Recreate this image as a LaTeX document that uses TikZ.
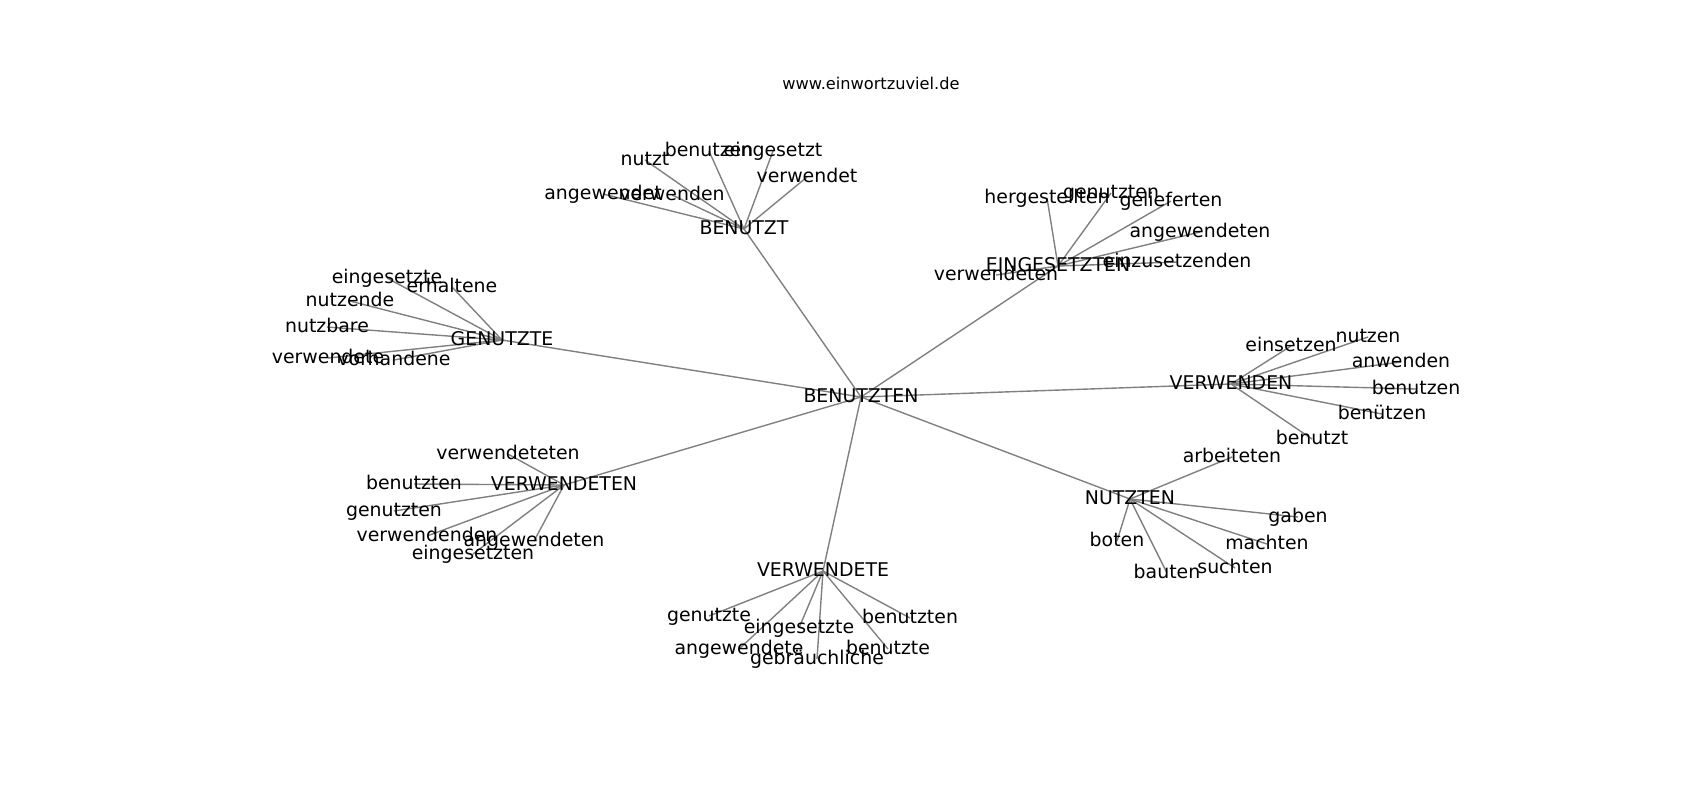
\documentclass[tikz,border=0pt]{standalone}
\usepackage{fontspec}
\setmainfont{DejaVu Sans}
\usetikzlibrary{backgrounds}
\tikzset{
  word/.style={inner sep=0pt, text height=0.76em, text depth=0.21em, font=\fontsize{9.45}{11}\selectfont, text=black},
  link/.style={draw=black!50, line width=0.7pt},
  titletext/.style={inner sep=0pt, anchor=base, font=\fontsize{8.1}{10}\selectfont}
}
\begin{document}
\begin{tikzpicture}[x=0.5pt,y=-0.5pt]
\useasboundingbox (0,0) rectangle (1700,800);
\node[titletext] (title) at (871,89) {www.einwortzuviel.de};
% center
\node[word] (c) at (861,397) {BENUTZTEN};
% hubs
\node[word] (h1) at (744,229) {BENUTZT};
\node[word] (h2) at (1058,266) {EINGESETZTEN};
\node[word] (h3) at (502,340) {GENUTZTE};
\node[word] (h4) at (1231,384) {VERWENDEN};
\node[word] (h5) at (564,485) {VERWENDETEN};
\node[word] (h6) at (1130,499) {NUTZTEN};
\node[word] (h7) at (823,571) {VERWENDETE};
% BENUTZT leaves
\node[word] (a1) at (645,160) {nutzt};
\node[word] (a2) at (709,151) {benutzen};
\node[word] (a3) at (773,151) {eingesetzt};
\node[word] (a4) at (807,177) {verwendet};
\node[word] (a5) at (603,194) {angewendet};
\node[word] (a6) at (672,195) {verwenden};
% EINGESETZTEN leaves
\node[word] (b1) at (1047,198) {hergestellten};
\node[word] (b2) at (1111,193) {genutzten};
\node[word] (b3) at (1171,201) {gelieferten};
\node[word] (b4) at (1200,232) {angewendeten};
\node[word] (b5) at (1177,262) {einzusetzenden};
\node[word] (b6) at (996,275) {verwendeten};
% GENUTZTE leaves
\node[word] (d1) at (387,278) {eingesetzte};
\node[word] (d2) at (452,287) {erhaltene};
\node[word] (d3) at (350,301) {nutzende};
\node[word] (d4) at (327,327) {nutzbare};
\node[word] (d5) at (328,358) {verwendete};
\node[word] (d6) at (394,360) {vorhandene};
% VERWENDEN leaves
\node[word] (e1) at (1291,346) {einsetzen};
\node[word] (e2) at (1368,337) {nutzen};
\node[word] (e3) at (1401,362) {anwenden};
\node[word] (e4) at (1416,389) {benutzen};
\node[word] (e5) at (1382,414) {benützen};
\node[word] (e6) at (1312,439) {benutzt};
% VERWENDETEN leaves
\node[word] (f1) at (508,454) {verwendeteten};
\node[word] (f2) at (414,484) {benutzten};
\node[word] (f3) at (394,511) {genutzten};
\node[word] (f4) at (427,536) {verwendenden};
\node[word] (f5) at (534,541) {angewendeten};
\node[word] (f6) at (473,554) {eingesetzten};
% NUTZTEN leaves
\node[word] (g1) at (1232,457) {arbeiteten};
\node[word] (g2) at (1298,517) {gaben};
\node[word] (g3) at (1117,541) {boten};
\node[word] (g4) at (1267,544) {machten};
\node[word] (g5) at (1167,573) {bauten};
\node[word] (g6) at (1235,568) {suchten};
% VERWENDETE leaves
\node[word] (k1) at (709,616) {genutzte};
\node[word] (k2) at (910,618) {benutzten};
\node[word] (k3) at (799,628) {eingesetzte};
\node[word] (k4) at (739,649) {angewendete};
\node[word] (k5) at (888,649) {benutzte};
\node[word] (k6) at (817,659) {gebräuchliche};
\begin{pgfonlayer}{background}
\foreach \h in {h1,h2,h3,h4,h5,h6,h7} \draw[link] (c.center) -- (\h.center);
\foreach \l in {a1,a2,a3,a4,a5,a6} \draw[link] (h1.center) -- (\l.center);
\foreach \l in {b1,b2,b3,b4,b5,b6} \draw[link] (h2.center) -- (\l.center);
\foreach \l in {d1,d2,d3,d4,d5,d6} \draw[link] (h3.center) -- (\l.center);
\foreach \l in {e1,e2,e3,e4,e5,e6} \draw[link] (h4.center) -- (\l.center);
\foreach \l in {f1,f2,f3,f4,f5,f6} \draw[link] (h5.center) -- (\l.center);
\foreach \l in {g1,g2,g3,g4,g5,g6} \draw[link] (h6.center) -- (\l.center);
\foreach \l in {k1,k2,k3,k4,k5,k6} \draw[link] (h7.center) -- (\l.center);
\end{pgfonlayer}
\end{tikzpicture}
\end{document}
